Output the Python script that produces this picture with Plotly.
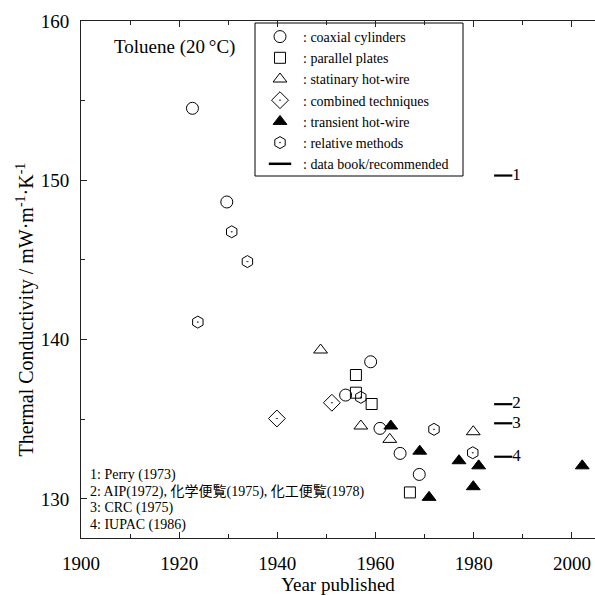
import plotly.graph_objects as go

# ---- data (year published, thermal conductivity mW/m/K) ----
coax_year = [1922.7, 1929.7, 1953.9, 1959.0, 1960.9, 1965.0, 1968.9]
coax_val = [154.52, 148.64, 136.52, 138.61, 134.43, 132.86, 131.54]

plates_year = [1956.0, 1956.0, 1959.2, 1967.0]
plates_val = [137.78, 136.67, 135.96, 130.41]

stat_year = [1948.8, 1957.0, 1962.9, 1979.9]
stat_val = [139.35, 134.58, 133.74, 134.22]

comb_year = [1939.9, 1951.1]
comb_val = [135.05, 136.04]

trans_year = [1963.1, 1969.0, 1970.9, 1977.0, 1979.9, 1981.0, 2002.1]
trans_val = [134.58, 133.0, 130.1, 132.4, 130.77, 132.08, 132.08]

rel_year = [1923.8, 1930.7, 1933.9, 1957.0, 1971.9, 1979.8]
rel_val = [141.1, 146.77, 144.9, 136.38, 134.37, 132.9]

book_year = [1986.0, 1986.0, 1986.0, 1986.0]
book_val = [150.3, 135.95, 134.75, 132.65]
book_labels = ["1", "2", "3", "4"]

notes = ["1: Perry (1973)",
         "2: AIP(1972), 化学便覧(1975), 化工便覧(1978)",
         "3: CRC (1975)",
         "4: IUPAC (1986)"]

x_ticks = [1900, 1920, 1940, 1960, 1980, 2000]
y_ticks = [130, 140, 150, 160]

FONT = "Liberation Serif, Noto Sans CJK JP, serif"
X_RANGE = [1900, 2004.7]
Y_RANGE = [127.55, 160]

# plot area in pixels (for paper-coordinate placement of decorations)
PL, PT, PW, PH = 81, 21, 514, 517


def px(x):
    return (x - PL) / PW


def py(y):
    return 1 - (y - PT) / PH


fig = go.Figure()


def add(xs, ys, name, symbol, size, lw=1.0):
    fig.add_trace(go.Scatter(
        x=xs, y=ys, mode="markers", name=name,
        marker=dict(symbol=symbol, size=size, color="black",
                    line=dict(color="black", width=lw)),
    ))


add(coax_year, coax_val, ": coaxial cylinders", "circle-open", 12)
add(plates_year, plates_val, ": parallel plates", "square-open", 11)
add(stat_year, stat_val, ": statinary hot-wire", "triangle-up-open", 12)
add(comb_year, comb_val, ": combined techniques", "diamond-open-dot", 13)
add(trans_year, trans_val, ": transient hot-wire", "triangle-up", 12)
add(rel_year, rel_val, ": relative methods", "hexagon-open-dot", 12)

# data book / recommended values
fig.add_trace(go.Scatter(
    x=book_year, y=book_val, mode="markers+text", text=book_labels,
    textposition="middle right",
    textfont=dict(family=FONT, size=17, color="black"),
    marker=dict(symbol="line-ew", size=13, color="black",
                line=dict(color="black", width=2.2)),
    showlegend=False, name="book",
))
fig.add_trace(go.Scatter(
    x=[None], y=[None], mode="markers", name=": data book/recommended",
    marker=dict(symbol="line-ew", size=18, color="black",
                line=dict(color="black", width=2.5)),
))

# annotations
fig.add_annotation(x=px(112), y=py(46.7), xref="paper", yref="paper",
                   text="Toluene (20\u2009°C)", showarrow=False,
                   xanchor="left", yanchor="middle",
                   font=dict(family=FONT, size=19, color="black"))
note_y = [475, 491.5, 508, 524.5]
for t, ny in zip(notes, note_y):
    fig.add_annotation(x=px(88), y=py(ny),
                       xref="paper", yref="paper", text=t, showarrow=False,
                       xanchor="left", yanchor="middle",
                       font=dict(family=FONT, size=14, color="black"))

# y-axis title (placed as rotated text, centred like the reference)
fig.add_annotation(x=px(24.5), y=py(310), xref="paper", yref="paper",
                   text="Thermal Conductivity / mW·m<sup>-1</sup>·K<sup>-1</sup>",
                   textangle=-90, showarrow=False,
                   xanchor="center", yanchor="middle",
                   font=dict(family=FONT, size=20, color="black"))

# legend frame
fig.add_shape(type="rect", xref="paper", yref="paper",
              x0=px(255), x1=px(463), y0=py(176), y1=py(23),
              line=dict(color="black", width=1), fillcolor="white",
              layer="below")

axis_common = dict(
    showgrid=False, zeroline=False, showline=True, linecolor="#222",
    linewidth=1, ticks="inside", tickcolor="#222",
    tickfont=dict(family=FONT, size=19, color="black"),
)

fig.update_layout(
    width=595, height=595,
    margin=dict(l=81, r=0, t=21, b=57),
    paper_bgcolor="white", plot_bgcolor="white",
    font=dict(family=FONT, color="black"),
    xaxis=dict(
        range=X_RANGE, tickvals=x_ticks, ticklen=6, mirror="ticks",
        minor=dict(dtick=10, ticklen=4, ticks="inside", tickcolor="#222"),
        ticklabelstandoff=8,
        title=dict(text="Year published", standoff=4,
                   font=dict(family=FONT, size=19, color="black")),
        **axis_common,
    ),
    yaxis=dict(
        range=Y_RANGE, tickvals=y_ticks, ticklen=6,
        minor=dict(dtick=5, ticklen=4, ticks="inside", tickcolor="#222"),
        ticklabelstandoff=7,
        **axis_common,
    ),
    yaxis2=dict(
        overlaying="y", side="right", anchor="x", range=Y_RANGE,
        tickvals=y_ticks, ticks="inside", ticklen=6, tickcolor="#222",
        minor=dict(dtick=5, ticklen=4, ticks="inside", tickcolor="#222"),
        showticklabels=False, showline=False, showgrid=False, zeroline=False,
    ),
    legend=dict(
        x=px(257), y=py(21), xanchor="left", yanchor="top",
        bgcolor="rgba(0,0,0,0)", borderwidth=0,
        font=dict(family=FONT, size=14, color="black"),
        itemwidth=36, tracegroupgap=0,
    ),
    showlegend=True,
)

fig.write_html("out.html")
